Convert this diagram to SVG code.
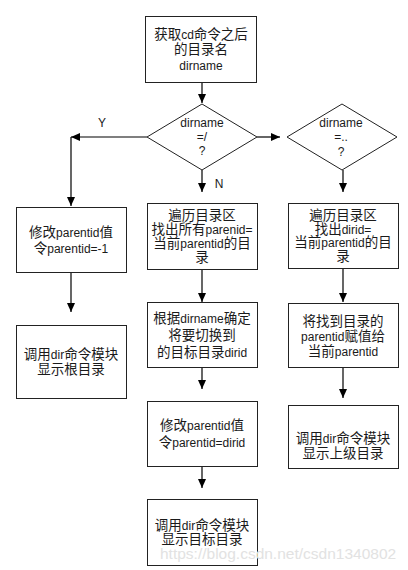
<svg xmlns="http://www.w3.org/2000/svg" width="408" height="570" viewBox="0 0 408 570">
<style>
.box{fill:#fff;stroke:#222;stroke-width:1}
.ln{fill:none;stroke:#000;stroke-width:1.2}
text{font-family:"Liberation Sans","Noto Sans CJK SC",sans-serif;font-size:13.5px;fill:#1a1a1a;text-anchor:middle}
.e{font-size:12px}
.lb{font-size:12px}
.wm{font-family:"Liberation Sans",Arial,sans-serif;font-size:15.5px;fill:#e2e2e2;text-anchor:start}
</style>
<defs>
<marker id="ah" viewBox="0 0 9 8" markerWidth="9" markerHeight="8" refX="9" refY="4" orient="auto" markerUnits="userSpaceOnUse">
<path d="M0,0 L9,4 L0,8 z" fill="#000"/>
</marker>
</defs>
<rect width="408" height="570" fill="#fff"/>

<g id="connectors">
<path class="ln" d="M202,82 V103" marker-end="url(#ah)"/>
<path class="ln" d="M147,137 H71" marker-end="url(#ah)"/>
<path class="ln" d="M71,137 V206" marker-end="url(#ah)"/>
<path class="ln" d="M257,137 H280" marker-end="url(#ah)"/>
<path class="ln" d="M202,170 V192" marker-end="url(#ah)"/>
<path class="ln" d="M343,170 V192" marker-end="url(#ah)"/>
<path class="ln" d="M71,272 V312" marker-end="url(#ah)"/>
<path class="ln" d="M202,269 V302" marker-end="url(#ah)"/>
<path class="ln" d="M202,367 V389" marker-end="url(#ah)"/>
<path class="ln" d="M202,466 V488" marker-end="url(#ah)"/>
<path class="ln" d="M343,268 V302" marker-end="url(#ah)"/>
<path class="ln" d="M343,367 V398" marker-end="url(#ah)"/>
<text class="lb" x="102" y="127">Y</text>
<text class="lb" x="219" y="188">N</text>
</g>

<g id="start">
<rect class="box" x="145.5" y="16.5" width="111" height="66"/>
<text x="201" y="39">获取<tspan class="e">cd</tspan>命令之后</text>
<text x="201" y="54">的目录名</text>
<text x="201" y="70"><tspan class="e">dirname</tspan></text>
</g>

<g id="dec1">
<polygon class="box" points="202,104 257,137 202,170 147,137"/>
<text class="lb" x="202" y="127">dirname</text>
<text class="lb" x="202" y="141">=/</text>
<text class="lb" x="202" y="155">?</text>
</g>

<g id="dec2">
<polygon class="box" points="342,104 397,137 342,170 287,137"/>
<text class="lb" x="341" y="127">dirname</text>
<text class="lb" x="341" y="141">=..</text>
<text class="lb" x="341" y="156">?</text>
</g>

<g id="left1">
<rect class="box" x="16.5" y="207.5" width="110" height="65"/>
<text x="71" y="237">修改<tspan class="e">parentid</tspan>值</text>
<text x="71" y="253">令<tspan class="e">parentid=-1</tspan></text>
</g>

<g id="left2">
<rect class="box" x="16.5" y="325.5" width="110" height="73"/>
<text x="71" y="359">调用<tspan class="e">dir</tspan>命令模块</text>
<text x="71" y="374">显示根目录</text>
</g>

<g id="mid1">
<rect class="box" x="147.5" y="203.5" width="110" height="66"/>
<text x="202" y="220">遍历目录区</text>
<text x="202" y="234">找出所有<tspan class="e">parenid=</tspan></text>
<text x="202" y="248">当前<tspan class="e">parentid</tspan>的目</text>
<text x="202" y="262">录</text>
</g>

<g id="mid2">
<rect class="box" x="147.5" y="302.5" width="110" height="65"/>
<text x="202" y="323">根据<tspan class="e">dirname</tspan>确定</text>
<text x="202" y="340">将要切换到</text>
<text x="202" y="357">的目标目录<tspan class="e">dirid</tspan></text>
</g>

<g id="mid3">
<rect class="box" x="147.5" y="401.5" width="110" height="65"/>
<text x="202" y="430">修改<tspan class="e">parentid</tspan>值</text>
<text x="202" y="447">令<tspan class="e">parentid=dirid</tspan></text>
</g>

<g id="mid4">
<rect class="box" x="147.5" y="499.5" width="110" height="66"/>
<text x="202" y="530">调用<tspan class="e">dir</tspan>命令模块</text>
<text x="202" y="544">显示目标目录</text>
</g>

<g id="right1">
<rect class="box" x="288.5" y="203.5" width="110" height="65"/>
<text x="343" y="220">遍历目录区</text>
<text x="343" y="233.5">找出<tspan class="e">dirid=</tspan></text>
<text x="343" y="247">当前<tspan class="e">parentid</tspan>的目</text>
<text x="343" y="260.5">录</text>
</g>

<g id="right2">
<rect class="box" x="288.5" y="303.5" width="110" height="64"/>
<text x="343" y="326">将找到目录的</text>
<text x="343" y="341"><tspan class="e">parentid</tspan>赋值给</text>
<text x="343" y="356">当前<tspan class="e">parentid</tspan></text>
</g>

<g id="right3">
<rect class="box" x="288.5" y="405.5" width="110" height="63"/>
<text x="343" y="443">调用<tspan class="e">dir</tspan>命令模块</text>
<text x="343" y="458">显示上级目录</text>
</g>

<text class="wm" x="160" y="559">https://blog.csdn.net/csdn1340802</text>
</svg>
